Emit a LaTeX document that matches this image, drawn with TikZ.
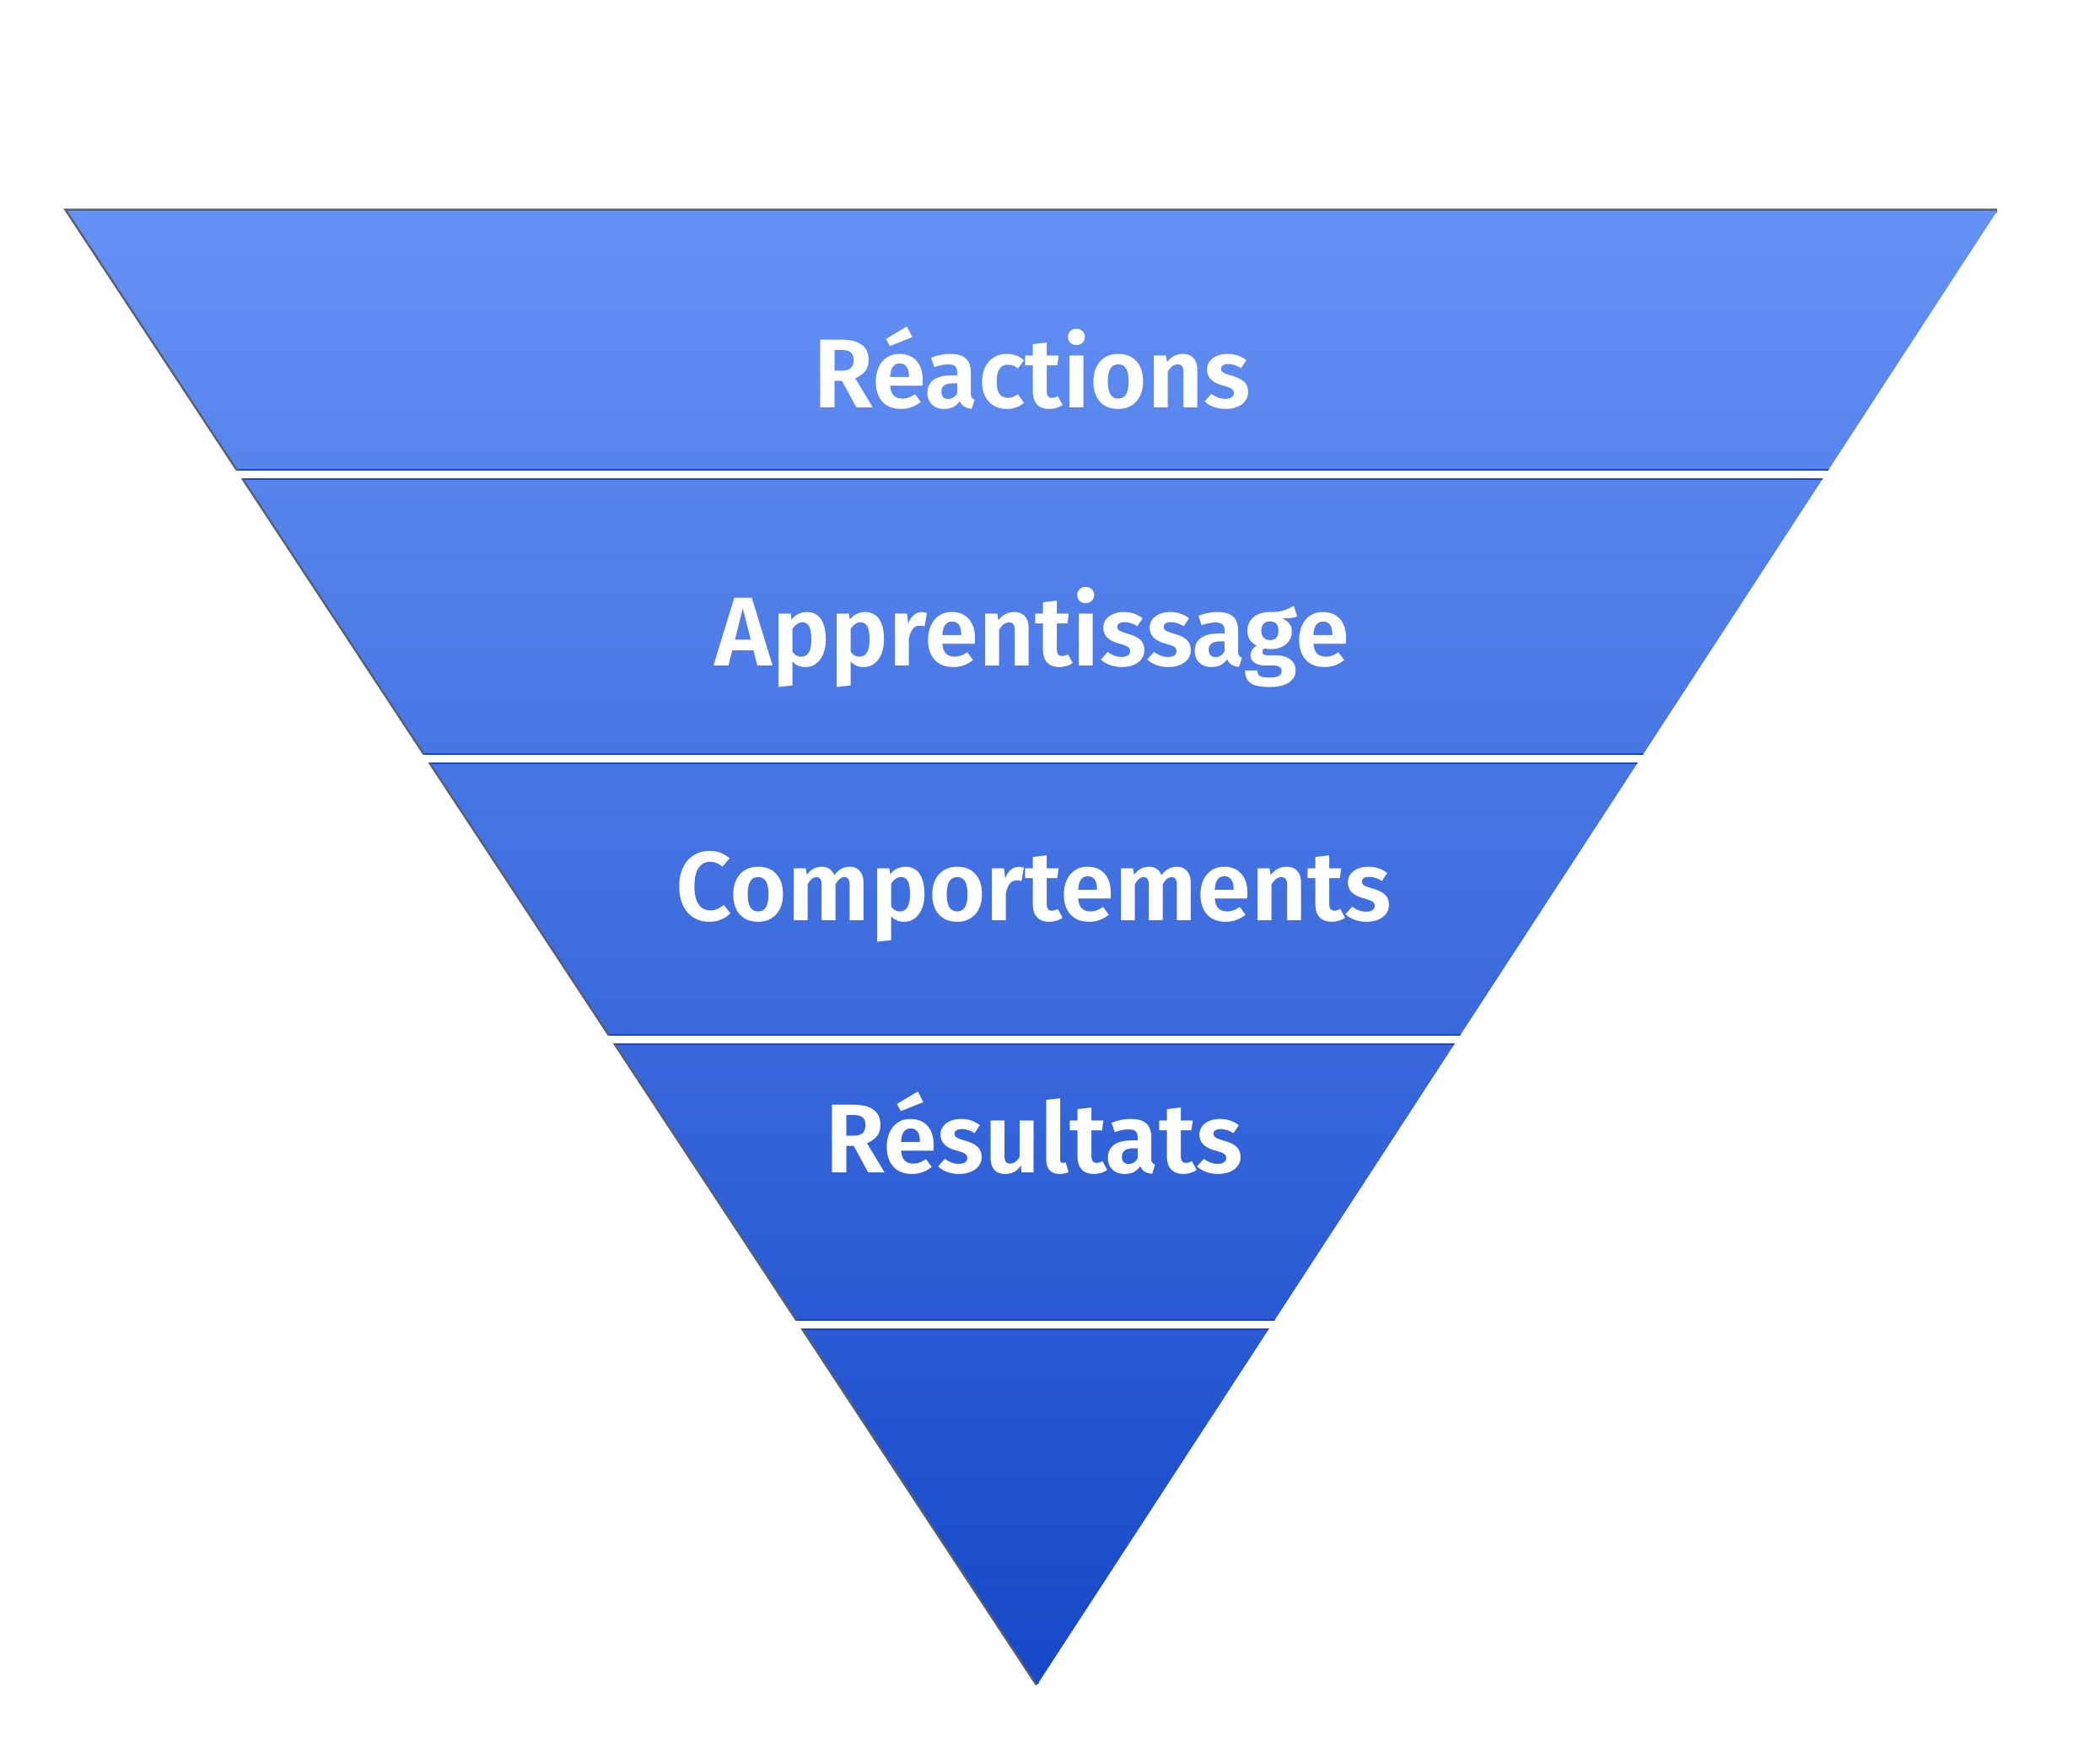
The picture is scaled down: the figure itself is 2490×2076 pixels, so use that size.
\documentclass[tikz,border=0pt]{standalone}
\usepackage{fontspec}
\setmainfont{Fira Sans}
\newfontfamily\lblfont{Fira Sans SemiBold}
\begin{document}
\begin{tikzpicture}[x=0.01cm,y=-0.01cm,
  lvl/.style={text=white,font=\fontsize{33}{36}\selectfont\lblfont,anchor=base,inner sep=0pt}]
\useasboundingbox (0,0) rectangle (2490,2076);
\definecolor{topc}{RGB}{101,146,245}
\definecolor{botc}{RGB}{22,72,200}
\definecolor{edgec}{RGB}{90,95,105}
\definecolor{bandc}{RGB}{20,70,220}
\draw[edgec,line width=0.5mm,line join=miter] (2368,250) -- (80,250) -- (1230,1997);
\begin{scope}
\clip (80,250) -- (2368,250) -- (1230,1997) -- cycle;
\shade[top color=topc,bottom color=botc] (60,240) rectangle (2390,2000);
\foreach \yy in {563,899,1232,1570}{
  \fill[bandc] (0,\yy-6.5) rectangle (2490,\yy+6.5);
}
\end{scope}
\foreach \yy in {563,899,1232,1570}{
  \fill[white] (200,\yy-4.5) rectangle (2300,\yy+4.5);
}
\node[lvl] (r) at (1224,484) {Réactions};
\node[lvl] (a) at (1224,789) {Apprentissage};
\node[lvl] (c) at (1226,1091) {Comportements};
\node[lvl] (s) at (1226,1390) {Résultats};
\end{tikzpicture}
\end{document}
